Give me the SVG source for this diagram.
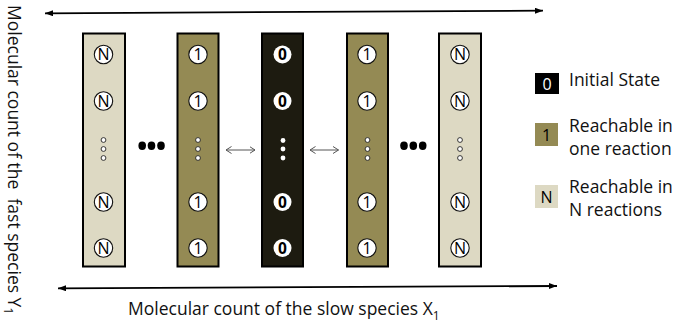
<svg xmlns="http://www.w3.org/2000/svg" width="676" height="331" viewBox="0 0 676 331">
  <style>
    text { font-family: "Open Sans", "Liberation Sans", sans-serif; }
    .lbl { font-size: 17.5px; fill: #111; }
    .col { stroke: #000; stroke-width: 2; }
    .light { fill: #DDD9C3; }
    .olive { fill: #948A54; }
    .dark { fill: #1D1B10; }
    .circ { fill: #fff; stroke: #111; stroke-width: 1.1; }
    .circ0 { fill: #fff; }
    .ct { font-size: 16px; fill: #000; text-anchor: middle; }
    .ct0 { font-size: 15.5px; font-weight: bold; fill: #000; text-anchor: middle; }
    .sdot { fill: #fff; stroke: #222; stroke-width: 0.9; }
    .sdot0 { fill: #fff; }
    .big { fill: #000; }
    .axis { stroke: #000; stroke-width: 1.8; fill: none; }
    .dbl { stroke: #555; stroke-width: 1; fill: none; }
    .lt { font-size: 16px; text-anchor: middle; }
  </style>
  <defs>
    <marker id="ah" markerUnits="userSpaceOnUse" markerWidth="9" markerHeight="7" refX="8" refY="3" orient="auto-start-reverse">
      <path d="M0,0 L8,3 L0,6 z" fill="#000"/>
    </marker>
    <marker id="oh" markerUnits="userSpaceOnUse" markerWidth="7" markerHeight="9" refX="5.5" refY="4" orient="auto-start-reverse">
      <path d="M0,0.5 L5.5,4 L0,7.5" fill="none" stroke="#555" stroke-width="1"/>
    </marker>
  </defs>

  <!-- axis labels -->
  <text class="lbl" transform="translate(7.5,5) rotate(90)" xml:space="preserve">Molecular count of the  fast species Y<tspan dy="4" font-size="12">1</tspan></text>
  <text class="lbl" x="128" y="315">Molecular count of the slow species X<tspan dy="5" font-size="12">1</tspan></text>

  <!-- columns -->
  <g id="col1">
    <rect class="col light" x="83" y="33.5" width="42" height="233"/>
    <circle class="circ" cx="103.5" cy="54.5" r="9.2"/><text class="ct" x="103.5" y="60.2">N</text>
    <circle class="circ" cx="103.5" cy="101" r="9.2"/><text class="ct" x="103.5" y="106.7">N</text>
    <circle class="sdot" cx="103.5" cy="140" r="2.4"/><circle class="sdot" cx="103.5" cy="149" r="2.4"/><circle class="sdot" cx="103.5" cy="158" r="2.4"/>
    <circle class="circ" cx="103.5" cy="202" r="9.2"/><text class="ct" x="103.5" y="207.7">N</text>
    <circle class="circ" cx="103.5" cy="248" r="9.2"/><text class="ct" x="103.5" y="253.7">N</text>
  </g>
  <g id="col2">
    <rect class="col olive" x="177.5" y="33.5" width="41" height="233"/>
    <circle class="circ" cx="198" cy="54.5" r="9.2"/><text class="ct" x="198" y="60.2">1</text>
    <circle class="circ" cx="198" cy="101" r="9.2"/><text class="ct" x="198" y="106.7">1</text>
    <circle class="sdot" cx="198" cy="140" r="2.4"/><circle class="sdot" cx="198" cy="149" r="2.4"/><circle class="sdot" cx="198" cy="158" r="2.4"/>
    <circle class="circ" cx="198" cy="202" r="9.2"/><text class="ct" x="198" y="207.7">1</text>
    <circle class="circ" cx="198" cy="248" r="9.2"/><text class="ct" x="198" y="253.7">1</text>
  </g>
  <g id="col3">
    <rect class="col dark" x="262" y="33.5" width="41" height="233"/>
    <circle class="circ0" cx="282.5" cy="54.5" r="9"/><text class="ct0" x="282.5" y="60">0</text>
    <circle class="circ0" cx="282.5" cy="101" r="9"/><text class="ct0" x="282.5" y="106.5">0</text>
    <circle class="sdot0" cx="283" cy="140.5" r="2.4"/><circle class="sdot0" cx="283" cy="149" r="2.4"/><circle class="sdot0" cx="283" cy="158" r="2.4"/>
    <circle class="circ0" cx="282.5" cy="202" r="9"/><text class="ct0" x="282.5" y="207.5">0</text>
    <circle class="circ0" cx="282.5" cy="248" r="9"/><text class="ct0" x="282.5" y="253.5">0</text>
  </g>
  <g id="col4">
    <rect class="col olive" x="347" y="33.5" width="41" height="233"/>
    <circle class="circ" cx="367" cy="54.5" r="9.2"/><text class="ct" x="367" y="60.2">1</text>
    <circle class="circ" cx="367" cy="101" r="9.2"/><text class="ct" x="367" y="106.7">1</text>
    <circle class="sdot" cx="367.5" cy="140" r="2.4"/><circle class="sdot" cx="367.5" cy="149" r="2.4"/><circle class="sdot" cx="367.5" cy="158" r="2.4"/>
    <circle class="circ" cx="367" cy="202" r="9.2"/><text class="ct" x="367" y="207.7">1</text>
    <circle class="circ" cx="367" cy="248" r="9.2"/><text class="ct" x="367" y="253.7">1</text>
  </g>
  <g id="col5">
    <rect class="col light" x="439" y="33.5" width="42" height="233"/>
    <circle class="circ" cx="460" cy="54.5" r="9.2"/><text class="ct" x="460" y="60.2">N</text>
    <circle class="circ" cx="460" cy="101" r="9.2"/><text class="ct" x="460" y="106.7">N</text>
    <circle class="sdot" cx="460" cy="140" r="2.4"/><circle class="sdot" cx="460" cy="149" r="2.4"/><circle class="sdot" cx="460" cy="158" r="2.4"/>
    <circle class="circ" cx="460" cy="202" r="9.2"/><text class="ct" x="460" y="207.7">N</text>
    <circle class="circ" cx="460" cy="248" r="9.2"/><text class="ct" x="460" y="253.7">N</text>
  </g>

  <!-- ellipses -->
  <g id="ellipsis1">
    <ellipse class="big" cx="142.2" cy="145.7" rx="3.8" ry="4.2"/>
    <ellipse class="big" cx="151.5" cy="145.7" rx="3.8" ry="4.2"/>
    <ellipse class="big" cx="161" cy="145.7" rx="3.8" ry="4.2"/>
  </g>
  <g id="ellipsis2">
    <ellipse class="big" cx="404" cy="145.7" rx="3.8" ry="4.2"/>
    <ellipse class="big" cx="413.3" cy="145.7" rx="3.8" ry="4.2"/>
    <ellipse class="big" cx="422.7" cy="145.7" rx="3.8" ry="4.2"/>
  </g>

  <!-- connectors -->
  <g id="connectors">
    <line class="axis" x1="45" y1="13.3" x2="543" y2="10.7" marker-start="url(#ah)" marker-end="url(#ah)"/>
    <line class="axis" x1="58" y1="288.3" x2="557" y2="286" marker-start="url(#ah)" marker-end="url(#ah)"/>
    <line class="dbl" x1="226" y1="150" x2="255" y2="150" marker-start="url(#oh)" marker-end="url(#oh)"/>
    <line class="dbl" x1="310" y1="150" x2="338.5" y2="150" marker-start="url(#oh)" marker-end="url(#oh)"/>
  </g>

  <!-- legend -->
  <g id="legend0">
    <rect x="535" y="73" width="24" height="21" fill="#000"/>
    <text class="lt" x="547" y="89.5" fill="#fff">0</text>
    <text class="lbl" x="569" y="86">Initial State</text>
  </g>
  <g id="legend1">
    <rect x="535" y="123" width="23" height="23" fill="#948A54"/>
    <text class="lt" x="546.5" y="140.5" fill="#000">1</text>
    <text class="lbl" x="569" y="132">Reachable in</text>
    <text class="lbl" x="569" y="154.5">one reaction</text>
  </g>
  <g id="legendN">
    <rect x="535" y="185" width="23" height="23" fill="#DDD9C3"/>
    <text class="lt" x="546.5" y="202.5" fill="#000">N</text>
    <text class="lbl" x="569" y="193">Reachable in</text>
    <text class="lbl" x="569" y="216">N reactions</text>
  </g>
</svg>
